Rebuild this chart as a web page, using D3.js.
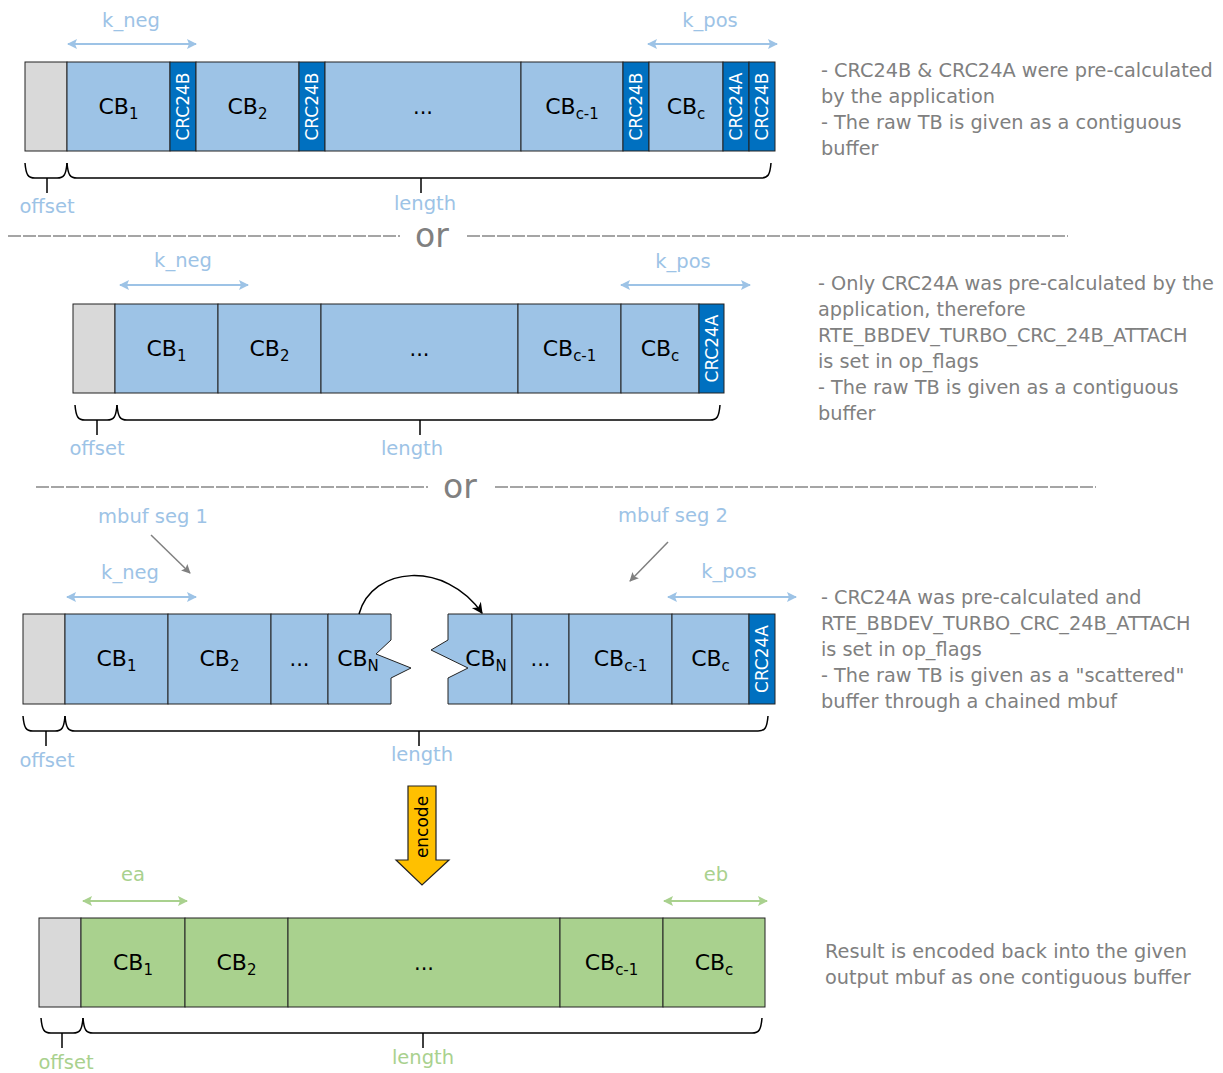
<!DOCTYPE html>
<html>
<head>
<meta charset="utf-8">
<script src="https://cdn.jsdelivr.net/npm/d3@7"></script>
<style>
  body { margin: 0; background: #fff; }
  svg { font-family: "DejaVu Sans", sans-serif; }
</style>
</head>
<body>
<div id="chart"></div>
<script>
// segment rows: label ("CB|sub" means subscript), kind, width in px
var row1Labels = ["", "CB|1", "CRC24B", "CB|2", "CRC24B", "...", "CB|c-1", "CRC24B", "CB|c", "CRC24A", "CRC24B"];
var row1Kinds  = ["off", "cb", "crc", "cb", "crc", "cb", "cb", "crc", "cb", "crc", "crc"];
var row1Widths = [42, 103, 26, 103, 26, 196, 102, 26, 74, 26, 26];

var row2Labels = ["", "CB|1", "CB|2", "...", "CB|c-1", "CB|c", "CRC24A"];
var row2Kinds  = ["off", "cb", "cb", "cb", "cb", "cb", "crc"];
var row2Widths = [42, 103, 103, 197, 103, 78, 25];

var row3aLabels = ["", "CB|1", "CB|2", "...", "CB|N"];
var row3aKinds  = ["off", "cb", "cb", "cb", "cutR"];
var row3aWidths = [42, 103, 103, 57, 63];

var row3bLabels = ["CB|N", "...", "CB|c-1", "CB|c", "CRC24A"];
var row3bKinds  = ["cutL", "cb", "cb", "cb", "crc"];
var row3bWidths = [64, 57, 103, 77, 26];

var row4Labels = ["", "CB|1", "CB|2", "...", "CB|c-1", "CB|c"];
var row4Kinds  = ["off", "out", "out", "out", "out", "out"];
var row4Widths = [42, 104, 103, 272, 103, 102];

var note1 = ["- CRC24B & CRC24A were pre-calculated", "by the application", "- The raw TB is given as a contiguous", "buffer"];
var note2 = ["- Only CRC24A was pre-calculated by the", "application, therefore", "RTE_BBDEV_TURBO_CRC_24B_ATTACH", "is set in op_flags", "- The raw TB is given as a contiguous", "buffer"];
var note3 = ["- CRC24A was pre-calculated and", "RTE_BBDEV_TURBO_CRC_24B_ATTACH", "is set in op_flags", "- The raw TB is given as a \"scattered\"", "buffer through a chained mbuf"];
var note4 = ["Result is encoded back into the given", "output mbuf as one contiguous buffer"];

var W = 1223, H = 1073;
var blue = "#9dc3e6", dark = "#0070c0", green = "#a9d18e", grey = "#d9d9d9";
var lblBlue = "#9dc3e6", lblGreen = "#a9d18e", txtGrey = "#808080";
var fills = { off: grey, cb: blue, crc: dark, cutR: blue, cutL: blue, out: green };

var svg = d3.select("#chart").append("svg").attr("width", W).attr("height", H);

var defs = svg.append("defs");
function marker(id, color, orient, w, h) {
  defs.append("marker").attr("id", id)
    .attr("viewBox", "0 0 10 10").attr("refX", 9).attr("refY", 5)
    .attr("markerWidth", w).attr("markerHeight", h)
    .attr("markerUnits", "userSpaceOnUse")
    .attr("orient", orient)
    .append("path").attr("d", "M0,0 L10,5 L0,10 L2,5 z").attr("fill", color);
}
marker("aBlue", lblBlue, "auto-start-reverse", 13, 10);
marker("aGreen", lblGreen, "auto-start-reverse", 13, 10);
marker("aGrey", "#808080", "auto", 11, 9);
defs.append("marker").attr("id", "aBlack")
  .attr("viewBox", "0 0 10 10").attr("refX", 9).attr("refY", 5)
  .attr("markerWidth", 13).attr("markerHeight", 11)
  .attr("markerUnits", "userSpaceOnUse").attr("orient", "auto")
  .append("path").attr("d", "M0,0 L10,5 L0,10 L3,5 z").attr("fill", "#000");

function drawRow(x0, top, h, labels, kinds, widths) {
  var ends = d3.cumsum(widths);
  var x = d3.scaleLinear().domain([0, d3.sum(widths)]).range([x0, x0 + d3.sum(widths)]);
  var g = svg.append("g");
  labels.forEach(function(lab, i) {
    var a = x(i === 0 ? 0 : ends[i - 1]), b = x(ends[i]);
    var k = kinds[i];
    if (k === "cutR") {
      var pts = [[a, top], [b, top], [b, top + 26], [b - 15, top + 40], [b + 20, top + 54], [b, top + 64], [b, top + h], [a, top + h]];
      g.append("path").attr("d", d3.line()(pts) + "Z").attr("fill", blue).attr("stroke", "#222").attr("stroke-width", 1);
    } else if (k === "cutL") {
      var pts2 = [[a, top], [b, top], [b, top + h], [a, top + h], [a, top + 64], [a + 20, top + 54], [a - 17, top + 36], [a, top + 26]];
      g.append("path").attr("d", d3.line()(pts2) + "Z").attr("fill", blue).attr("stroke", "#222").attr("stroke-width", 1);
    } else {
      g.append("rect").attr("x", a).attr("y", top).attr("width", b - a).attr("height", h)
        .attr("fill", fills[k]).attr("stroke", "#222").attr("stroke-width", 1);
    }
    if (!lab) return;
    var cx = (a + b) / 2, cy = top + h / 2;
    if (k === "crc") {
      g.append("text").attr("transform", "translate(" + (cx + 6) + "," + cy + ") rotate(-90)")
        .attr("text-anchor", "middle").attr("font-size", 17).attr("fill", "#fff").text(lab);
    } else if (lab === "...") {
      g.append("text").attr("x", cx).attr("y", cy + 7).attr("text-anchor", "middle")
        .attr("font-size", 21).attr("fill", "#000").text("...");
    } else {
      var parts = lab.split("|");
      if (k === "cutR") cx = a + 30;
      if (k === "cutL") cx = a + 38;
      var t = g.append("text").attr("x", cx).attr("y", cy + 7).attr("text-anchor", "middle")
        .attr("font-size", 22).attr("fill", "#000");
      t.append("tspan").text(parts[0]);
      t.append("tspan").attr("font-size", 15).attr("dy", 5).text(parts[1]);
    }
  });
}

function span(x1, x2, y, color, mk) {
  svg.append("line").attr("x1", x1 + 1).attr("x2", x2 - 1).attr("y1", y).attr("y2", y)
    .attr("stroke", color).attr("stroke-width", 2)
    .attr("marker-start", "url(#" + mk + ")").attr("marker-end", "url(#" + mk + ")");
}

function label(x, y, txt, color, size) {
  svg.append("text").attr("x", x).attr("y", y).attr("text-anchor", "middle")
    .attr("font-size", size || 19.5).attr("fill", color).text(txt);
}

function brace(x1, x2, y, tip) {
  var d = "M" + x1 + "," + y + " C" + (x1 + 1) + "," + (y + 12) + " " + (x1 + 3) + "," + (y + 15) + " " + (x1 + 10) + "," + (y + 15) +
    " L" + (x2 - 10) + "," + (y + 15) + " C" + (x2 - 3) + "," + (y + 15) + " " + (x2 - 1) + "," + (y + 12) + " " + x2 + "," + y;
  svg.append("path").attr("d", d).attr("fill", "none").attr("stroke", "#000").attr("stroke-width", 1.5);
  svg.append("line").attr("x1", tip).attr("x2", tip).attr("y1", y + 15).attr("y2", y + 30)
    .attr("stroke", "#000").attr("stroke-width", 1.5);
}

function separator(x1, x2, x3, x4, y, ox) {
  [[x1, x2], [x3, x4]].forEach(function(p) {
    svg.append("line").attr("x1", p[0]).attr("x2", p[1]).attr("y1", y).attr("y2", y)
      .attr("stroke", "#888").attr("stroke-width", 1.5).attr("stroke-dasharray", "13,2");
  });
  svg.append("text").attr("x", ox).attr("y", y + 11).attr("text-anchor", "middle")
    .attr("font-size", 33).attr("fill", "#808080").text("or");
}

function note(x, y0, lines) {
  lines.forEach(function(l, i) {
    svg.append("text").attr("x", x).attr("y", y0 + i * 26).attr("font-size", 19.3)
      .attr("fill", txtGrey).text(l);
  });
}

// row 1
span(67, 197, 44, lblBlue, "aBlue"); label(131, 27, "k_neg", lblBlue);
span(647, 778, 44, lblBlue, "aBlue"); label(710, 27, "k_pos", lblBlue);
drawRow(25, 62, 89, row1Labels, row1Kinds, row1Widths);
brace(25, 67, 163, 47); brace(67, 771, 163, 421);
label(47, 213, "offset", lblBlue); label(425, 210, "length", lblBlue);
note(821, 77, note1);

separator(8, 400, 467, 1068, 236, 432);

// row 2
span(119, 249, 285, lblBlue, "aBlue"); label(183, 267, "k_neg", lblBlue);
span(620, 751, 285, lblBlue, "aBlue"); label(683, 268, "k_pos", lblBlue);
drawRow(73, 304, 89, row2Labels, row2Kinds, row2Widths);
brace(75, 117, 405, 97); brace(117, 720, 405, 420);
label(97, 455, "offset", lblBlue); label(412, 455, "length", lblBlue);
note(818, 290, note2);

separator(36, 428, 495, 1096, 487, 460);

// row 3
label(153, 523, "mbuf seg 1", lblBlue); label(673, 522, "mbuf seg 2", lblBlue);
svg.append("line").attr("x1", 151).attr("y1", 535).attr("x2", 190).attr("y2", 573)
  .attr("stroke", "#808080").attr("stroke-width", 1.5).attr("marker-end", "url(#aGrey)");
svg.append("line").attr("x1", 668).attr("y1", 542).attr("x2", 630).attr("y2", 581)
  .attr("stroke", "#808080").attr("stroke-width", 1.5).attr("marker-end", "url(#aGrey)");
span(66, 197, 597, lblBlue, "aBlue"); label(130, 579, "k_neg", lblBlue);
span(667, 797, 597, lblBlue, "aBlue"); label(729, 578, "k_pos", lblBlue);
drawRow(23, 614, 90, row3aLabels, row3aKinds, row3aWidths);
drawRow(448, 614, 90, row3bLabels, row3bKinds, row3bWidths);
svg.append("path").attr("d", "M359,614 C372,566 445,560 482,613")
  .attr("fill", "none").attr("stroke", "#000").attr("stroke-width", 1.5).attr("marker-end", "url(#aBlack)");
brace(23, 65, 716, 46); brace(65, 768, 716, 419);
label(47, 767, "offset", lblBlue); label(422, 761, "length", lblBlue);
note(821, 604, note3);

// encode arrow
svg.append("path").attr("d", d3.line()([[408, 786], [436, 786], [436, 860], [449, 860], [422, 885], [396, 860], [408, 860]]) + "Z")
  .attr("fill", "#ffc000").attr("stroke", "#222").attr("stroke-width", 1.2);
svg.append("text").attr("transform", "translate(428,827) rotate(-90)").attr("text-anchor", "middle")
  .attr("font-size", 17).attr("fill", "#000").text("encode");

// row 4
span(82, 188, 901, lblGreen, "aGreen"); label(133, 881, "ea", lblGreen);
span(663, 768, 901, lblGreen, "aGreen"); label(716, 881, "eb", lblGreen);
drawRow(39, 918, 89, row4Labels, row4Kinds, row4Widths);
brace(41, 83, 1018, 62); brace(83, 762, 1018, 423);
label(66, 1069, "offset", lblGreen); label(423, 1064, "length", lblGreen);
note(825, 958, note4);
</script>
</body>
</html>
